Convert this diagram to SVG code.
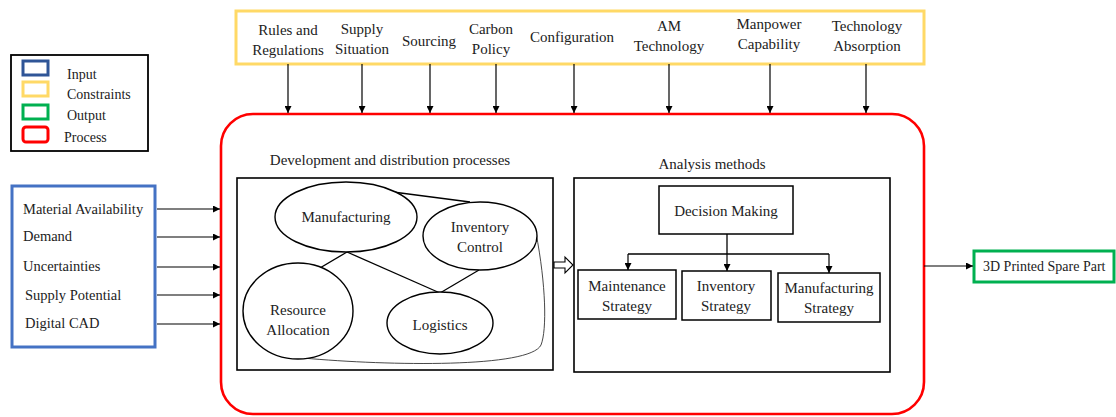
<svg xmlns="http://www.w3.org/2000/svg" width="1116" height="417" viewBox="0 0 1116 417">
  <defs>
    <marker id="arr" viewBox="0 0 10 10" refX="10" refY="5" markerWidth="7" markerHeight="7" markerUnits="userSpaceOnUse" orient="auto">
      <path d="M0,0 L10,5 L0,10 Z" fill="#000"/>
    </marker>
  </defs>
  <style>
    .c { text-anchor: middle; }
    .box { fill: #fff; stroke: #000; stroke-width: 1.6; }
    .node { fill: #fff; stroke: #000; stroke-width: 1.5; }
    .ell { fill: #fff; stroke: #000; stroke-width: 1.4; }
    .link { fill: none; stroke: #000; stroke-width: 1.3; }
    .thin { fill: none; stroke: #333; stroke-width: 0.9; }
    .arrow { fill: none; stroke: #000; stroke-width: 1.2; marker-end: url(#arr); }
  </style>
  <rect width="1116" height="417" fill="#fff"/>

  <g font-family="Liberation Serif, Times New Roman, serif" font-size="15" fill="#222">

  <!-- Legend -->
  <g id="legend">
    <rect x="11" y="55" width="137" height="96" fill="#fff" stroke="#000" stroke-width="1.8"/>
    <rect x="23" y="61" width="25" height="14" fill="none" stroke="#2F5597" stroke-width="3"/>
    <rect x="23" y="82" width="25" height="14" fill="none" stroke="#FFD966" stroke-width="3"/>
    <rect x="23" y="105" width="25" height="14" fill="none" stroke="#00B050" stroke-width="3"/>
    <rect x="23" y="127" width="25" height="15" rx="3" fill="none" stroke="#FF0000" stroke-width="3"/>
    <text x="67" y="79" font-size="14">Input</text>
    <text x="67" y="99" font-size="14">Constraints</text>
    <text x="67" y="120" font-size="14">Output</text>
    <text x="64" y="142" font-size="14">Process</text>
  </g>

  <!-- Constraints -->
  <g id="constraints">
    <rect x="236" y="11" width="688" height="53" fill="#fff" stroke="#FFD966" stroke-width="3"/>
    <text class="c" x="288" y="35">Rules and</text>
    <text class="c" x="288" y="55">Regulations</text>
    <text class="c" x="362" y="34">Supply</text>
    <text class="c" x="362" y="54">Situation</text>
    <text class="c" x="429" y="46">Sourcing</text>
    <text class="c" x="491" y="34">Carbon</text>
    <text class="c" x="491" y="54">Policy</text>
    <text class="c" x="572" y="42">Configuration</text>
    <text class="c" x="669" y="31">AM</text>
    <text class="c" x="669" y="51">Technology</text>
    <text class="c" x="769" y="29">Manpower</text>
    <text class="c" x="769" y="49">Capability</text>
    <text class="c" x="867" y="31">Technology</text>
    <text class="c" x="867" y="51">Absorption</text>
  </g>

  <!-- Process -->
  <g id="process">
    <rect x="221" y="114" width="703" height="300" rx="32" fill="#fff" stroke="#FF0000" stroke-width="2.6"/>
  </g>

  <!-- Inputs -->
  <g id="inputs">
    <rect x="12" y="186" width="143" height="161" fill="#fff" stroke="#4472C4" stroke-width="3"/>
    <text x="23" y="214" font-size="14.5">Material Availability</text>
    <text x="23" y="241" font-size="14.5">Demand</text>
    <text x="23" y="271" font-size="14.5">Uncertainties</text>
    <text x="25" y="300" font-size="14.5">Supply Potential</text>
    <text x="25" y="328" font-size="14.5">Digital CAD</text>
  </g>

  <!-- Development and distribution processes -->
  <g id="development">
    <text class="c" x="390" y="165">Development and distribution processes</text>
    <rect class="box" x="237" y="178" width="316" height="192"/>
  </g>

  <g id="dev-links">
    <line class="link" x1="347" y1="252" x2="303" y2="278"/>
    <line class="link" x1="347" y1="252" x2="440" y2="293"/>
    <line class="link" x1="479" y1="270" x2="440" y2="293"/>
    <line class="link" x1="393" y1="192" x2="470" y2="202"/>
    <path class="thin" d="M536,233 C546,285 547,330 541,345 C530,368 390,366 303,358"/>
  </g>

  <g id="manufacturing">
    <ellipse class="ell" cx="346" cy="217" rx="71" ry="35"/>
    <text class="c" x="346" y="222">Manufacturing</text>
  </g>
  <g id="inventory-control">
    <ellipse class="ell" cx="480" cy="236" rx="57" ry="34"/>
    <text class="c" x="480" y="232">Inventory</text>
    <text class="c" x="480" y="252">Control</text>
  </g>
  <g id="resource-allocation">
    <ellipse class="ell" cx="298" cy="311" rx="55" ry="48"/>
    <text class="c" x="298" y="315">Resource</text>
    <text class="c" x="298" y="335">Allocation</text>
  </g>
  <g id="logistics">
    <ellipse class="ell" cx="440" cy="323" rx="53" ry="31"/>
    <text class="c" x="440" y="330">Logistics</text>
  </g>

  <!-- Analysis methods -->
  <g id="analysis">
    <text class="c" x="712" y="169">Analysis methods</text>
    <rect class="box" x="574" y="178" width="316" height="194"/>
  </g>
  <g id="decision-making">
    <rect class="node" x="659" y="186" width="134" height="48"/>
    <text class="c" x="726" y="216">Decision Making</text>
  </g>
  <g id="maintenance-strategy">
    <rect class="node" x="578" y="270" width="98" height="49"/>
    <text class="c" x="627" y="291">Maintenance</text>
    <text class="c" x="627" y="311">Strategy</text>
  </g>
  <g id="inventory-strategy">
    <rect class="node" x="682" y="271" width="89" height="49"/>
    <text class="c" x="726" y="291">Inventory</text>
    <text class="c" x="726" y="311">Strategy</text>
  </g>
  <g id="manufacturing-strategy">
    <rect class="node" x="778" y="273" width="102" height="49"/>
    <text class="c" x="829" y="293">Manufacturing</text>
    <text class="c" x="829" y="313">Strategy</text>
  </g>

  <!-- Output -->
  <g id="output">
    <rect x="974" y="251" width="140" height="31" fill="#fff" stroke="#00B050" stroke-width="3"/>
    <text x="983" y="271" font-size="14">3D Printed Spare Part</text>
  </g>

  <!-- Connectors -->
  <g id="connectors">
    <line class="arrow" x1="288" y1="64" x2="288" y2="113"/>
    <line class="arrow" x1="362" y1="64" x2="362" y2="113"/>
    <line class="arrow" x1="430" y1="64" x2="430" y2="113"/>
    <line class="arrow" x1="496" y1="64" x2="496" y2="113"/>
    <line class="arrow" x1="574" y1="64" x2="574" y2="113"/>
    <line class="arrow" x1="669" y1="64" x2="669" y2="113"/>
    <line class="arrow" x1="770" y1="64" x2="770" y2="113"/>
    <line class="arrow" x1="866" y1="64" x2="866" y2="113"/>

    <line class="arrow" x1="157" y1="209" x2="220" y2="209"/>
    <line class="arrow" x1="157" y1="237" x2="220" y2="237"/>
    <line class="arrow" x1="157" y1="267" x2="220" y2="267"/>
    <line class="arrow" x1="157" y1="295" x2="220" y2="295"/>
    <line class="arrow" x1="157" y1="324" x2="220" y2="324"/>

    <line class="arrow" x1="924" y1="266" x2="973" y2="266"/>

    <path d="M554,262 L565,262 L565,257 L573,265 L565,273 L565,268 L554,268 Z" fill="#fff" stroke="#000" stroke-width="1.1"/>

    <line class="link" x1="727" y1="234" x2="727" y2="254"/>
    <line class="link" x1="628" y1="254" x2="829" y2="254" stroke-width="1"/>
    <line class="arrow" x1="628" y1="254" x2="628" y2="270"/>
    <line class="arrow" x1="727" y1="254" x2="727" y2="271"/>
    <line class="arrow" x1="829" y1="254" x2="829" y2="273"/>
  </g>

  </g>
</svg>
